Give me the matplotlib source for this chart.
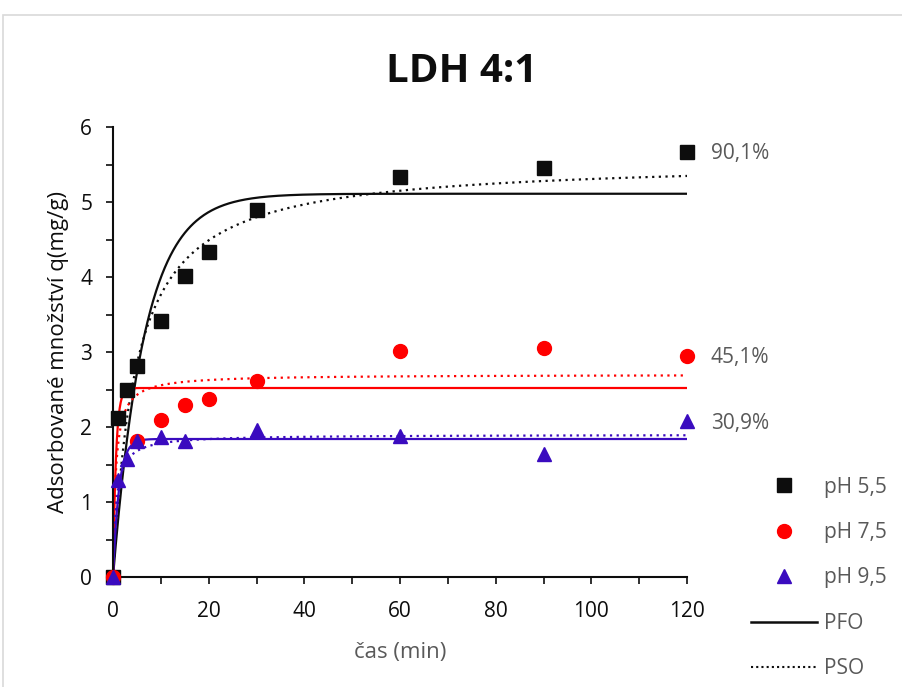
import numpy as np
import matplotlib.pyplot as plt
from matplotlib.patches import Rectangle
from matplotlib.lines import Line2D
from matplotlib.ticker import MultipleLocator

plt.rcParams['font.family'] = ['Open Sans', 'DejaVu Sans']

# measured adsorption data
t55 = [0, 1, 3, 5, 10, 15, 20, 30, 60, 90, 120]
q55 = [0, 2.12, 2.49, 2.82, 3.42, 4.01, 4.33, 4.89, 5.33, 5.45, 5.67]
t75 = [0, 5, 10, 15, 20, 30, 60, 90, 120]
q75 = [0, 1.82, 2.10, 2.30, 2.37, 2.62, 3.02, 3.06, 2.95]
t95 = [0, 1, 3, 5, 10, 15, 30, 60, 90, 120]
q95 = [0, 1.29, 1.58, 1.81, 1.87, 1.82, 1.96, 1.88, 1.64, 2.08]

# kinetic fit parameters (qe, k)
pfo = {'5,5': (5.11, 0.152), '7,5': (2.52, 1.6), '9,5': (1.84, 0.8)}
pso = {'5,5': (5.56, 0.0377), '7,5': (2.70, 0.66), '9,5': (1.90, 0.8)}
removal = {'5,5': '90,1%', '7,5': '45,1%', '9,5': '30,9%'}

colors = {'5,5': '#0d0d0d', '7,5': '#ff0000', '9,5': '#3a0bbf'}
markers = {'5,5': 's', '7,5': 'o', '9,5': '^'}
data = {'5,5': (t55, q55), '7,5': (t75, q75), '9,5': (t95, q95)}

fig = plt.figure(figsize=(9.02, 6.87), dpi=100)
fig.patches.append(Rectangle((3 / 902, -0.05), 1.1, 1 - 15 / 687 + 0.05,
                             transform=fig.transFigure, fill=False,
                             edgecolor='#d9d9d9', linewidth=1.2))
ax = fig.add_axes([113 / 902, 1 - 577 / 687, 574 / 902, 450 / 687])

tt = np.linspace(0, 120, 600)
for key in ['5,5', '7,5', '9,5']:
    c = colors[key]
    qe, k = pfo[key]
    ax.plot(tt, qe * (1 - np.exp(-k * tt)), color=c, lw=1.6, zorder=2)
    qe2, k2 = pso[key]
    ax.plot(tt, qe2 ** 2 * k2 * tt / (1 + qe2 * k2 * tt), color=c, lw=1.6,
            linestyle=(0, (1, 2)), zorder=2)
for key in ['5,5', '7,5', '9,5']:
    t, q = data[key]
    ms = 10.5 if key == '5,5' else 10
    ax.plot(t, q, linestyle='none', marker=markers[key], color=colors[key],
            markersize=ms, zorder=3, clip_on=False)
    # removal efficiency next to the last point
    ax.text(125, q[-1] - 0.03, removal[key], fontsize=15,
            color='#595959', va='center', ha='left')

ax.set_xlim(0, 120)
ax.set_ylim(0, 6)
ax.xaxis.set_major_locator(MultipleLocator(20))
ax.xaxis.set_minor_locator(MultipleLocator(10))
ax.yaxis.set_major_locator(MultipleLocator(1))
ax.yaxis.set_minor_locator(MultipleLocator(0.5))
ax.tick_params(which='both', direction='out', length=5, width=1.2,
               color='#0d0d0d')
ax.tick_params(which='major', labelsize=15, labelcolor='#0d0d0d')
ax.tick_params(axis='x', which='major', pad=12)
ax.tick_params(axis='y', which='major', pad=10)
for s in ['top', 'right']:
    ax.spines[s].set_visible(False)
for s in ['left', 'bottom']:
    ax.spines[s].set_linewidth(1.5)
    ax.spines[s].set_color('#0d0d0d')

ax.set_xlabel('čas (min)', fontsize=16, color='#595959', labelpad=15)
ax.set_ylabel('Adsorbované množství q(mg/g)', fontsize=16, color='#0d0d0d',
              labelpad=8)
fig.text(462 / 902, 1 - 71 / 687, 'LDH 4:1', fontsize=29, fontweight='bold',
         ha='center', va='center', color='#0d0d0d')

handles = [
    Line2D([], [], linestyle='none', marker='s', color=colors['5,5'], markersize=10),
    Line2D([], [], linestyle='none', marker='o', color=colors['7,5'], markersize=10),
    Line2D([], [], linestyle='none', marker='^', color=colors['9,5'], markersize=10),
    Line2D([], [], color='#0d0d0d', lw=1.8),
    Line2D([], [], color='#0d0d0d', lw=1.5, linestyle=(0, (1, 1.5))),
]
labels = ['pH 5,5', 'pH 7,5', 'pH 9,5', 'PFO', 'PSO']
fig.legend(handles, labels, loc='upper left',
           bbox_to_anchor=(732 / 902, 1 - 458 / 687), frameon=False,
           fontsize=15, labelcolor='#595959', handlelength=3.2,
           labelspacing=1.17, handletextpad=0.3)

fig.savefig('out.png', dpi=100)
